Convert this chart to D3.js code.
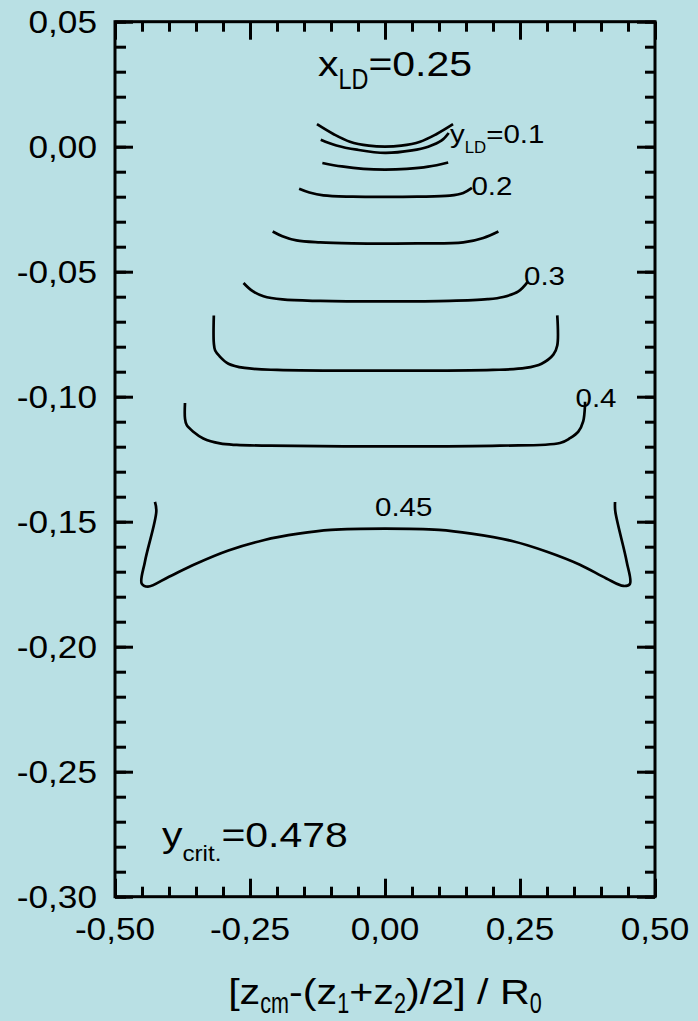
<!DOCTYPE html>
<html>
<head>
<meta charset="utf-8">
<script src="https://cdn.jsdelivr.net/npm/d3@7"></script>
<style>
  html, body { margin: 0; padding: 0; background: #b9e0e4; }
  svg { display: block; font-family: "Liberation Sans", Arial, sans-serif; }
</style>
</head>
<body>
<svg id="chart" width="698" height="1021"></svg>
<script>
// ---------------- data ----------------
const xDomain = [-0.5, 0.5];
const yDomain = [-0.30, 0.05];
const xMajorTicks = [-0.5, -0.25, 0, 0.25, 0.5];
const xTickLabels = ["-0,50", "-0,25", "0,00", "0,25", "0,50"];
const yMajorTicks = [0.05, 0, -0.05, -0.10, -0.15, -0.20, -0.25, -0.30];
const yTickLabels = ["0,05", "0,00", "-0,05", "-0,10", "-0,15", "-0,20", "-0,25", "-0,30"];

// contour lines of y_LD (x_LD = 0.25), points as [z, E]
const contourA = [[-0.126,0.009],[-0.095,0.005],[-0.065,0.002],[-0.03,0.0004],[0,0],[0.03,0.0004],[0.065,0.002],[0.095,0.005],[0.126,0.009]];
const contourB = [[-0.119,0.0028],[-0.09,0.0005],[-0.052,-0.0012],[0,-0.0025],[0.05,-0.0015],[0.08,0.0],[0.105,0.0025],[0.118,0.0055]];
const contourC = [[-0.116,-0.0065],[-0.08,-0.0079],[-0.04,-0.0089],[0,-0.0092],[0.04,-0.0089],[0.08,-0.0080],[0.117,-0.0063]];
const contourD = [[-0.159,-0.0168],[-0.14,-0.0183],[-0.114,-0.0195],[-0.06,-0.0200],[0,-0.0201],[0.06,-0.0200],[0.12,-0.0196],[0.145,-0.0185],[0.161,-0.0165]];
const contourE = [[-0.208,-0.0339],[-0.19,-0.0358],[-0.164,-0.0375],[-0.12,-0.0383],[-0.06,-0.0387],[0,-0.0388],[0.06,-0.0387],[0.145,-0.0383],[0.182,-0.0365],[0.21,-0.0339]];
const contourF = [[-0.262,-0.0545],[-0.245,-0.0578],[-0.225,-0.0598],[-0.19,-0.0611],[-0.12,-0.0617],[0,-0.0619],[0.12,-0.0617],[0.19,-0.0610],[0.219,-0.0601],[0.247,-0.0579],[0.265,-0.0539]];
const contourG = [[-0.317,-0.0675],[-0.317,-0.0785],[-0.3145,-0.0815],[-0.306,-0.0839],[-0.29,-0.0868],[-0.26,-0.0885],[-0.2,-0.0893],[0,-0.0896],[0.2,-0.0893],[0.26,-0.0885],[0.29,-0.0868],[0.3117,-0.0832],[0.319,-0.0795],[0.319,-0.0675]];
const contourH = [[-0.3704,-0.1025],[-0.3704,-0.1087],[-0.3673,-0.1113],[-0.355,-0.1140],[-0.3365,-0.1167],[-0.3056,-0.1187],[-0.2747,-0.1193],[-0.213,-0.1196],[0,-0.1199],[0.213,-0.1196],[0.324,-0.1185],[0.3426,-0.1166],[0.358,-0.1140],[0.367,-0.1099],[0.3704,-0.1032],[0.3704,-0.1020]];
const contourI = [[-0.426,-0.1421],[-0.4235,-0.1459],[-0.4445,-0.1659],[-0.4505,-0.1748],[-0.439,-0.1760],[-0.40,-0.1720],[-0.35,-0.1668],[-0.29,-0.1615],[-0.225,-0.1574],[-0.16,-0.1548],[-0.10,-0.1533],[0,-0.1528],[0.10,-0.1533],[0.16,-0.1548],[0.237,-0.1578],[0.30,-0.1620],[0.361,-0.1672],[0.41,-0.1727],[0.4415,-0.1757],[0.4535,-0.1749],[0.4475,-0.1659],[0.4265,-0.1459],[0.426,-0.1421]];
const contours = [contourA, contourB, contourC, contourD, contourE, contourF, contourG, contourH, contourI];

// contour labels: text and anchor (data units)
const contourLabelText = ["0.2", "0.3", "0.4", "0.45"];
const contourLabelAt = [[0.160,-0.0193],[0.2574,-0.0553],[0.3528,-0.104],[-0.0185,-0.1476]];

// ---------------- layout ----------------
const svg = d3.select("#chart");
const W = 698, H = 1021;
svg.append("rect").attr("width", W).attr("height", H).attr("fill", "#b9e0e4");

const x = d3.scaleLinear().domain(xDomain).range([115, 655]);
const y = d3.scaleLinear().domain(yDomain).range([896.7, 21.7]);
const pLeft = x.range()[0], pRight = x.range()[1], pTop = y.range()[1], pBottom = y.range()[0];

const MAIN = {size: 35, sx: 1.17};

function rich(parent, px, py, runs, anchor) {
  const g = parent.append("g");
  let cx = 0;
  runs.forEach(r => {
    const t = g.append("text")
      .text(r.t)
      .attr("font-size", r.size)
      .attr("fill", "#000")
      .attr("transform", `translate(${cx},${r.dy || 0}) scale(${r.sx},1)`);
    cx += t.node().getComputedTextLength() * r.sx;
  });
  const shift = anchor === "middle" ? -cx / 2 : 0;
  g.attr("transform", `translate(${px + shift},${py})`);
  return g;
}

// ---------------- axes ----------------
const axisW = 3;
function styleAxis(g) {
  g.select(".domain").remove();
  g.selectAll("line").attr("stroke", "#000").attr("stroke-width", axisW);
}
const xMinor = x.ticks(20);
const yMinor = y.ticks(35);

svg.append("g").attr("transform", `translate(0,${pBottom})`)
  .call(d3.axisBottom(x).tickValues(xMinor).tickSize(-10).tickFormat(""))
  .call(styleAxis);
svg.append("g").attr("transform", `translate(0,${pBottom})`)
  .call(d3.axisBottom(x).tickValues(xMajorTicks).tickSize(-18).tickFormat(""))
  .call(styleAxis);
svg.append("g").attr("transform", `translate(0,${pTop})`)
  .call(d3.axisTop(x).tickValues(xMinor).tickSize(-10).tickFormat(""))
  .call(styleAxis);
svg.append("g").attr("transform", `translate(0,${pTop})`)
  .call(d3.axisTop(x).tickValues(xMajorTicks).tickSize(-18).tickFormat(""))
  .call(styleAxis);
svg.append("g").attr("transform", `translate(${pLeft},0)`)
  .call(d3.axisLeft(y).tickValues(yMinor).tickSize(-11).tickFormat(""))
  .call(styleAxis);
svg.append("g").attr("transform", `translate(${pLeft},0)`)
  .call(d3.axisLeft(y).tickValues(yMajorTicks).tickSize(-18).tickFormat(""))
  .call(styleAxis);
svg.append("g").attr("transform", `translate(${pRight},0)`)
  .call(d3.axisRight(y).tickValues(yMinor).tickSize(-10).tickFormat(""))
  .call(styleAxis);
svg.append("g").attr("transform", `translate(${pRight},0)`)
  .call(d3.axisRight(y).tickValues(yMajorTicks).tickSize(-18).tickFormat(""))
  .call(styleAxis);

svg.append("rect")
  .attr("x", pLeft).attr("y", pTop)
  .attr("width", pRight - pLeft).attr("height", pBottom - pTop)
  .attr("fill", "none").attr("stroke", "#000").attr("stroke-width", axisW);

const tickFont = 32, tickSx = 1.1;
const xLab = svg.append("g");
xMajorTicks.forEach((v, i) => {
  xLab.append("text")
    .attr("transform", `translate(${x(v)},${pBottom + 43}) scale(${tickSx},1)`)
    .attr("text-anchor", "middle").attr("font-size", tickFont)
    .text(xTickLabels[i]);
});
const yLab = svg.append("g");
yMajorTicks.forEach((v, i) => {
  yLab.append("text")
    .attr("transform", `translate(${pLeft - 18},${y(v) + 11.5}) scale(${tickSx},1)`)
    .attr("text-anchor", "end").attr("font-size", tickFont)
    .text(yTickLabels[i]);
});

rich(svg, (pLeft + pRight) / 2, 1004, [
  {t: "[z", ...MAIN, sx: 1.18},
  {t: "cm", size: 30, sx: 0.72, dy: 9},
  {t: "-(z", ...MAIN, sx: 1.18},
  {t: "1", size: 30, sx: 0.72, dy: 9},
  {t: "+z", ...MAIN, sx: 1.18},
  {t: "2", size: 30, sx: 0.72, dy: 9},
  {t: ")/2] / R", ...MAIN, sx: 1.18},
  {t: "0", size: 30, sx: 0.72, dy: 9}
], "middle");

// ---------------- contours ----------------
const line = d3.line()
  .x(d => x(d[0])).y(d => y(d[1]))
  .curve(d3.curveCatmullRom.alpha(0.5));
svg.append("g").selectAll("path").data(contours).join("path")
  .attr("d", line)
  .attr("fill", "none").attr("stroke", "#000")
  .attr("stroke-width", 2.7).attr("stroke-linejoin", "round");

const CL = {size: 25, sx: 1.18};
rich(svg, x(0.1204), y(0.0015), [
  {t: "y", ...CL},
  {t: "LD", size: 16, sx: 1.05, dy: 10},
  {t: "=0.1", ...CL}
]);
contourLabelText.forEach((t, i) => {
  rich(svg, x(contourLabelAt[i][0]), y(contourLabelAt[i][1]), [{t, ...CL}]);
});

rich(svg, x(-0.124), y(0.0283), [
  {t: "x", ...MAIN},
  {t: "LD", size: 30, sx: 0.78, dy: 13},
  {t: "=0.25", ...MAIN}
]);
rich(svg, x(-0.413), y(-0.28), [
  {t: "y", ...MAIN},
  {t: "crit.", size: 22, sx: 1.1, dy: 14},
  {t: "=0.478", ...MAIN}
]);
</script>
</body>
</html>
